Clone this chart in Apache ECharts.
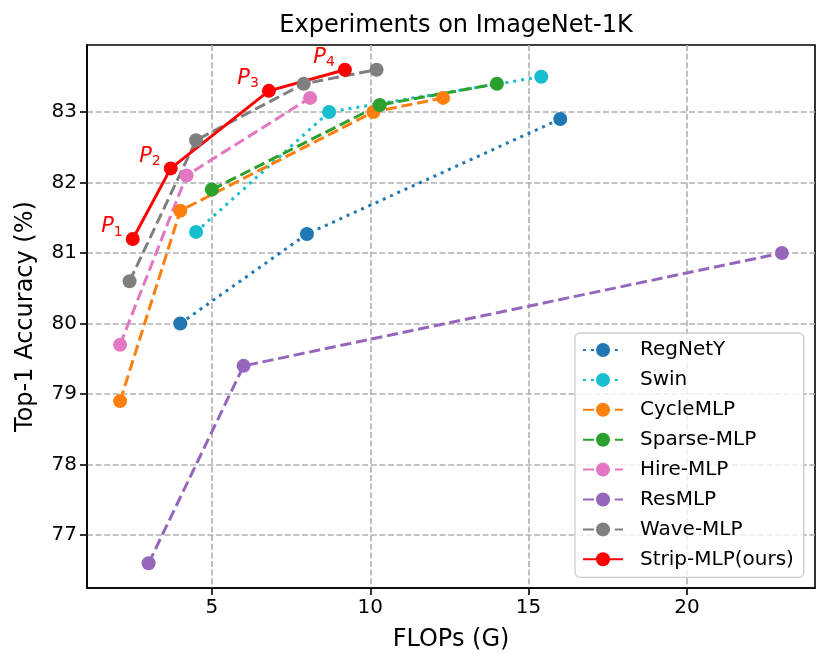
<!DOCTYPE html>
<html>
<head>
<meta charset="utf-8">
<script src="https://cdn.jsdelivr.net/npm/echarts@6/dist/echarts.min.js"></script>
<style>
  html, body { margin: 0; padding: 0; background: #fff; }
  #chart { width: 830px; height: 669px; }
</style>
</head>
<body>
<div id="chart"></div>
<script>
// values (FLOPs in G, top-1 in %)
var regnetyX = [4.0, 8.0, 16.0];
var regnetyY = [80.0, 81.27, 82.9];
var swinX = [4.5, 8.7, 15.4];
var swinY = [81.3, 83.0, 83.5];
var cycleX = [2.1, 4.0, 10.1, 12.3];
var cycleY = [78.9, 81.6, 83.0, 83.2];
var sparseX = [5.0, 10.3, 14.0];
var sparseY = [81.9, 83.1, 83.4];
var hireX = [2.1, 4.2, 8.1];
var hireY = [79.7, 82.1, 83.2];
var resX = [3.0, 6.0, 23.0];
var resY = [76.6, 79.4, 81.0];
var waveX = [2.4, 4.5, 7.9, 10.2];
var waveY = [80.6, 82.6, 83.4, 83.6];
var stripX = [2.5, 3.7, 6.8, 9.2];
var stripY = [81.2, 82.2, 83.3, 83.6];
var stripTags = ['1', '2', '3', '4'];

var xTicks = [5, 10, 15, 20];
var yTicks = [77, 78, 79, 80, 81, 82, 83];

var FONT = 'DejaVu Sans';
var DASHED = [11.1, 4.8];
var DOTTED = [3, 4.95];

function pairs(xs, ys) {
  return xs.map(function (x, i) { return [x, ys[i]]; });
}

function makeSeries(name, xs, ys, color, dash) {
  return {
    name: name,
    type: 'line',
    data: pairs(xs, ys),
    symbol: 'circle',
    symbolSize: 14,
    lineStyle: { color: color, width: 3, type: dash },
    itemStyle: { color: color },
    emphasis: { disabled: true },
    silent: true
  };
}

var series = [
  makeSeries('RegNetY', regnetyX, regnetyY, '#1f77b4', DOTTED),
  makeSeries('Swin', swinX, swinY, '#17becf', DOTTED),
  makeSeries('CycleMLP', cycleX, cycleY, '#ff7f0e', DASHED),
  makeSeries('Sparse-MLP', sparseX, sparseY, '#2ca02c', DASHED),
  makeSeries('Hire-MLP', hireX, hireY, '#e377c2', DASHED),
  makeSeries('ResMLP', resX, resY, '#9467bd', DASHED),
  makeSeries('Wave-MLP', waveX, waveY, '#7f7f7f', DASHED),
  makeSeries('Strip-MLP(ours)', stripX, stripY, '#ff0000', 'solid')
];

// P1..P4 tags next to our points
series[7].label = {
  show: true,
  position: 'left',
  distance: 3,
  offset: [0, -12],
  formatter: function (p) { return '{p|P}{s|' + stripTags[p.dataIndex] + '}'; },
  rich: {
    p: { fontFamily: FONT, fontStyle: 'italic', fontSize: 21, color: '#ff0000', lineHeight: 24 },
    s: { fontFamily: FONT, fontSize: 14, color: '#ff0000', verticalAlign: 'bottom', lineHeight: 14 }
  }
};

var axisBlack = { color: '#000', width: 1.6 };
var gridLine = { color: '#b0b0b0', width: 1.6, type: [6, 2.6] };

var chart = echarts.init(document.getElementById('chart'), null, { renderer: 'canvas' });
chart.setOption({
  animation: false,
  backgroundColor: '#fff',
  textStyle: { fontFamily: FONT },
  title: {
    text: 'Experiments on ImageNet-1K',
    left: 451,
    textAlign: 'center',
    top: 9,
    textStyle: { fontFamily: FONT, fontSize: 24, fontWeight: 'normal', color: '#000' }
  },
  grid: {
    left: 87, right: 15, top: 45, bottom: 81,
    show: true, borderColor: '#000', borderWidth: 1.6, backgroundColor: 'transparent'
  },
  legend: {
    orient: 'vertical',
    left: 575,
    top: 333,
    padding: [7, 10, 8, 7],
    itemWidth: 40,
    itemHeight: 17.5,
    itemGap: 9.9,
    backgroundColor: 'rgba(255,255,255,0.8)',
    borderColor: '#cccccc',
    borderWidth: 1.3,
    borderRadius: 5,
    textStyle: { fontFamily: FONT, fontSize: 20, color: '#000', padding: [0, 0, 0, 12] },
    data: series.map(function (s) { return s.name; })
  },
  xAxis: {
    type: 'value',
    min: 1.055,
    max: 24.045,
    name: 'FLOPs (G)',
    nameLocation: 'middle',
    nameGap: 40,
    nameTextStyle: { fontFamily: FONT, fontSize: 24, color: '#000' },
    axisLine: { show: true, onZero: false, lineStyle: axisBlack },
    axisTick: { show: true, length: 7, lineStyle: axisBlack, customValues: xTicks },
    axisLabel: { fontFamily: FONT, fontSize: 20, color: '#000', margin: 10, customValues: xTicks },
    splitLine: { show: true, lineStyle: gridLine }
  },
  yAxis: {
    type: 'value',
    min: 76.25,
    max: 83.95,
    name: 'Top-1 Accuracy (%)',
    nameLocation: 'middle',
    nameGap: 49,
    nameTextStyle: { fontFamily: FONT, fontSize: 24, color: '#000' },
    axisLine: { show: true, onZero: false, lineStyle: axisBlack },
    axisTick: { show: true, length: 7, lineStyle: axisBlack, customValues: yTicks },
    axisLabel: { fontFamily: FONT, fontSize: 20, color: '#000', margin: 10, customValues: yTicks },
    splitLine: { show: true, lineStyle: gridLine }
  },
  series: series
});
</script>
</body>
</html>
